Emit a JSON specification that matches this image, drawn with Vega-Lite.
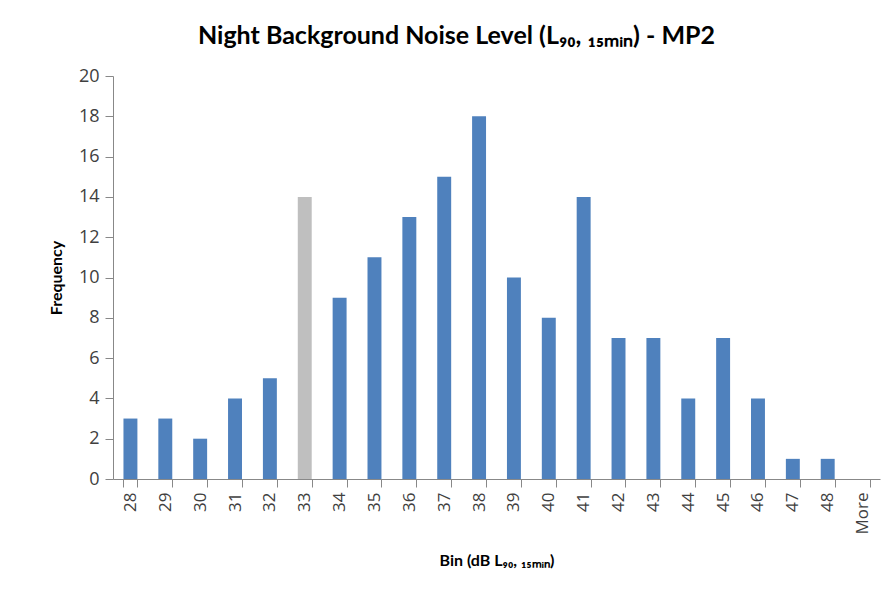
{
  "$schema": "https://vega.github.io/schema/vega-lite/v6.json",
  "width": 767,
  "height": 403,
  "autosize": {"type": "none"},
  "padding": {"left": 113, "top": 76, "right": 9, "bottom": 116},
  "background": "white",
  "title": {
    "text": "Night Background Noise Level (L₉₀, ₁₅ₘᵢₙ) - MP2",
    "font": "Lato",
    "fontSize": 25,
    "fontWeight": "bold",
    "color": "#000000",
    "anchor": "middle",
    "dx": -40,
    "offset": 18
  },
  "data": {
    "values": [
      {"bin": "28", "frequency": 3, "group": "normal"},
      {"bin": "29", "frequency": 3, "group": "normal"},
      {"bin": "30", "frequency": 2, "group": "normal"},
      {"bin": "31", "frequency": 4, "group": "normal"},
      {"bin": "32", "frequency": 5, "group": "normal"},
      {"bin": "33", "frequency": 14, "group": "highlight"},
      {"bin": "34", "frequency": 9, "group": "normal"},
      {"bin": "35", "frequency": 11, "group": "normal"},
      {"bin": "36", "frequency": 13, "group": "normal"},
      {"bin": "37", "frequency": 15, "group": "normal"},
      {"bin": "38", "frequency": 18, "group": "normal"},
      {"bin": "39", "frequency": 10, "group": "normal"},
      {"bin": "40", "frequency": 8, "group": "normal"},
      {"bin": "41", "frequency": 14, "group": "normal"},
      {"bin": "42", "frequency": 7, "group": "normal"},
      {"bin": "43", "frequency": 7, "group": "normal"},
      {"bin": "44", "frequency": 4, "group": "normal"},
      {"bin": "45", "frequency": 7, "group": "normal"},
      {"bin": "46", "frequency": 4, "group": "normal"},
      {"bin": "47", "frequency": 1, "group": "normal"},
      {"bin": "48", "frequency": 1, "group": "normal"},
      {"bin": "More", "frequency": 0, "group": "normal"}
    ]
  },
  "mark": {"type": "bar"},
  "encoding": {
    "x": {
      "field": "bin",
      "type": "nominal",
      "sort": null,
      "scale": {"paddingInner": 0.6, "paddingOuter": 0.3},
      "axis": {
        "title": "Bin (dB L₉₀, ₁₅ₘᵢₙ)",
        "titleFont": "Lato",
        "titleFontSize": 16,
        "titleFontWeight": "bold",
        "titleColor": "#000000",
        "titlePadding": 18,
        "labelAngle": -90,
        "labelFont": "Open Sans",
        "labelFontSize": 17,
        "labelColor": "#404040",
        "labelPadding": 5,
        "tickBand": "extent",
        "tickSize": 8,
        "tickColor": "#888888",
        "domainColor": "#888888",
        "grid": false
      }
    },
    "y": {
      "field": "frequency",
      "type": "quantitative",
      "scale": {"domain": [0, 20]},
      "axis": {
        "title": "Frequency",
        "titleFont": "Lato",
        "titleFontSize": 16,
        "titleFontWeight": "bold",
        "titleColor": "#000000",
        "titlePadding": 14,
        "values": [0, 2, 4, 6, 8, 10, 12, 14, 16, 18, 20],
        "labelFont": "Open Sans",
        "labelFontSize": 18,
        "labelColor": "#404040",
        "labelPadding": 6,
        "tickSize": 8,
        "tickColor": "#888888",
        "domainColor": "#888888",
        "grid": false
      }
    },
    "color": {
      "field": "group",
      "type": "nominal",
      "scale": {"domain": ["normal", "highlight"], "range": ["#4F81BD", "#BFBFBF"]},
      "legend": null
    }
  },
  "config": {
    "view": {"stroke": null}
  }
}
